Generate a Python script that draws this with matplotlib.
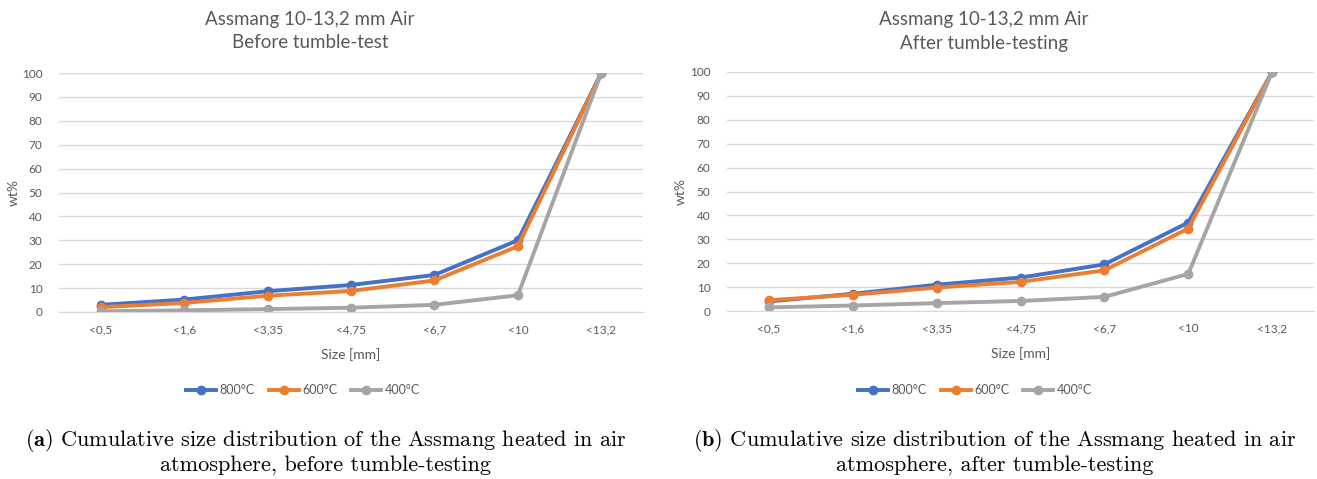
import matplotlib
matplotlib.use("Agg")
import matplotlib.pyplot as plt

# sieve classes
sizes = ["<0,5", "<1,6", "<3,35", "<4,75", "<6,7", "<10", "<13,2"]

# before tumble-test (cumulative wt%)
before_800 = [3.0, 5.2, 8.7, 11.3, 15.5, 30.0, 100]
before_600 = [2.0, 3.8, 6.8, 8.8, 13.2, 27.5, 100]
before_400 = [0.3, 0.7, 1.2, 1.8, 3.0, 7.0, 100]

# after tumble-testing (cumulative wt%)
after_800 = [4.0, 7.2, 11.0, 14.0, 19.5, 37.0, 100]
after_600 = [4.5, 6.8, 9.8, 12.2, 17.0, 34.5, 100]
after_400 = [1.5, 2.3, 3.3, 4.2, 5.9, 15.5, 100]

labels = ["800°C", "600°C", "400°C"]
colors = ["#4472C4", "#ED7D31", "#A5A5A5"]

plt.rcParams["font.family"] = ["Lato", "DejaVu Sans"]
plt.rcParams["mathtext.fontset"] = "cm"
txt = "#595959"
W, H = 1317, 479

fig = plt.figure(figsize=(W / 100, H / 100), dpi=100)

panels = [
    ([59 / W, 1 - 312 / H, 584 / W, 239 / H], 310, 303,
     ["Assmang 10-13,2 mm Air", "Before tumble-test"],
     [before_800, before_600, before_400]),
    ([727 / W, 1 - 311 / H, 587 / W, 239 / H], 984, 975,
     ["Assmang 10-13,2 mm Air", "After tumble-testing"],
     [after_800, after_600, after_400]),
]

for pos, tx, lx, title, series in panels:
    ax = fig.add_axes(pos)
    x = list(range(len(sizes)))
    for vals, lab, c in zip(series, labels, colors):
        ax.plot(x, vals, color=c, lw=2.8, marker="o", ms=6, label=lab,
                solid_joinstyle="round")
    ax.set_xlim(-0.5, 6.5)
    ax.set_ylim(0, 100)
    ax.set_yticks(range(0, 101, 10))
    ax.set_xticks(x)
    ax.set_xticklabels(sizes)
    ax.grid(axis="y", color="#D9D9D9", lw=1)
    ax.set_axisbelow(True)
    for s in ["top", "right", "left"]:
        ax.spines[s].set_visible(False)
    ax.spines["bottom"].set_color("#D9D9D9")
    ax.tick_params(length=0, colors=txt, labelsize=8.5)
    ax.tick_params(axis="x", pad=9)
    ax.tick_params(axis="y", pad=12)
    ax.set_xlabel("Size [mm]", color=txt, fontsize=10, labelpad=9)
    ax.set_ylabel("wt%", color=txt, fontsize=10)
    ax.yaxis.set_label_coords(-0.068, 0.5)

    # chart titles (centred on the chart area, not the plot area)
    fig.text(tx / W, 1 - 20 / H, title[0], ha="center", va="center",
             color=txt, fontsize=13.5)
    fig.text(tx / W, 1 - 43 / H, title[1], ha="center", va="center",
             color=txt, fontsize=13.5)

    ax.legend(loc="center", bbox_to_anchor=(lx / W, 1 - 390 / H),
              bbox_transform=fig.transFigure, ncol=3, frameon=False,
              fontsize=9, labelcolor=txt, handlelength=2.4,
              handletextpad=0.3, columnspacing=1.1)

captions = [
    (326, r"$\mathbf{(a)}$ Cumulative size distribution of the Assmang heated in air",
     "atmosphere, before tumble-testing"),
    (995, r"$\mathbf{(b)}$ Cumulative size distribution of the Assmang heated in air",
     "atmosphere, after tumble-testing"),
]
for cx, l1, l2 in captions:
    fig.text(cx / W, 1 - 440 / H, l1, ha="center", va="center",
             family="cmr10", fontsize=16)
    fig.text(cx / W, 1 - 465 / H, l2, ha="center", va="center",
             family="cmr10", fontsize=16)

fig.savefig("out.png", dpi=100)
